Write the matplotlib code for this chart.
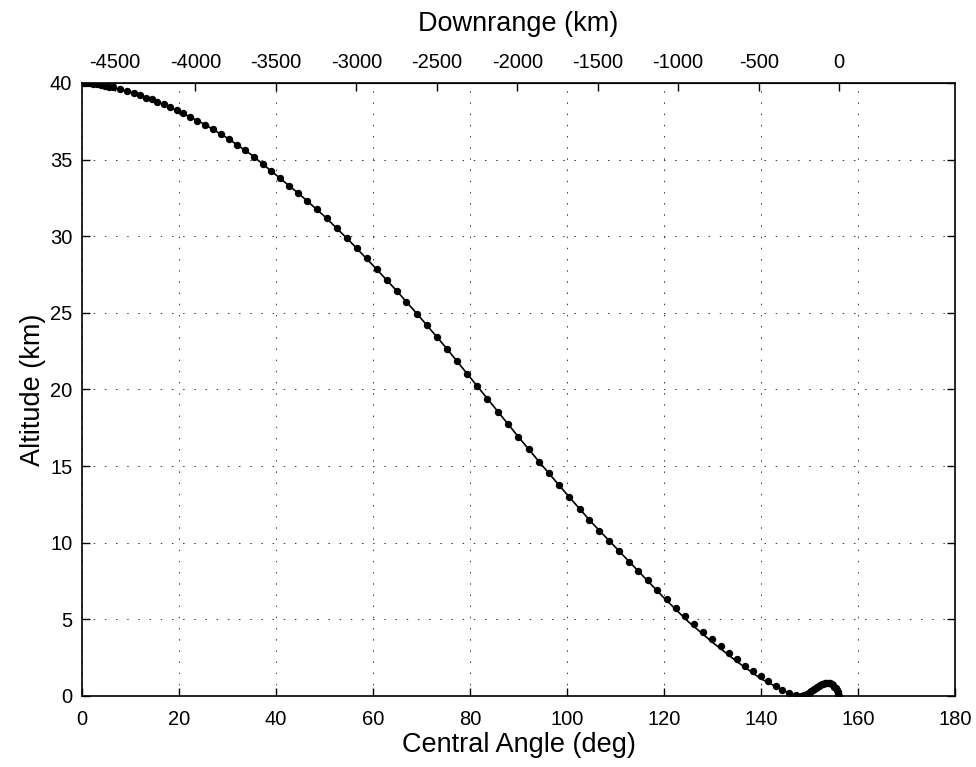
import matplotlib
matplotlib.use("Agg")
import matplotlib.pyplot as plt
import numpy as np

# central angle (deg) and altitude (km) of the trajectory line
line_angle = [0, 2, 5, 10, 15, 20, 25, 30, 35, 40, 45, 50, 55, 60, 65, 70,
              75, 80, 85, 90, 95, 100, 105, 110, 115, 120, 125, 130, 135,
              140, 145, 147.5, 148.5, 149.5, 150.5, 151.5, 152.5, 153.3,
              153.9, 154.5, 155.0, 155.4, 155.7, 155.9, 156.0]
line_alt = [40.0, 39.97, 39.8, 39.4, 38.85, 38.15, 37.35, 36.4, 35.3, 34.0,
            32.7, 31.3, 29.75, 28.1, 26.4, 24.6, 22.75, 20.8, 18.85, 16.9,
            15.0, 13.15, 11.35, 9.7, 8.05, 6.4, 4.85, 3.5, 2.25, 1.12, 0.3,
            0.02, 0.02, 0.14, 0.38, 0.6, 0.78, 0.85, 0.86, 0.8, 0.62, 0.42,
            0.22, 0.08, 0.0]

# sampled points (dots)
dot_angle = [0.0, 0.4, 0.9, 1.5, 2.2, 3.0, 3.9, 4.8, 5.6, 6.45, 7.84, 9.22,
             10.72, 11.96, 13.2, 14.37, 15.53, 16.9, 18.14, 19.53, 20.89,
             22.27, 23.78, 25.36, 26.95, 28.6, 30.3, 32.0, 33.67, 35.46,
             37.26, 39.03, 40.8, 42.7, 44.5, 46.45, 48.45, 50.45, 52.5,
             54.55, 56.6, 58.7, 60.75, 62.8, 64.9, 66.9, 69.1, 71.1, 73.1,
             75.2, 77.3, 79.4, 81.5, 83.6, 85.8, 87.8, 89.96, 92.1, 94.2,
             96.2, 98.4, 100.5, 102.7, 104.6, 106.7, 108.7, 110.8, 112.8,
             114.7, 116.6, 118.6, 120.6, 122.5, 124.3, 126.2, 128.1, 129.9,
             131.7, 133.4, 135.1, 136.8, 138.4, 139.9, 141.5, 143.0, 144.4,
             145.8, 147.2, 148.3, 148.6, 148.9, 149.2, 149.5, 149.8, 150.1,
             150.4, 150.7, 151.0, 151.3, 151.6, 151.9, 152.2, 152.5, 152.8,
             153.1, 153.4, 153.7, 154.0, 154.3, 154.6, 154.9, 155.15, 155.4,
             155.6, 155.8, 155.95, 156.05]
dot_alt = [40.0, 40.0, 39.99, 39.98, 39.96, 39.93, 39.88, 39.82, 39.77,
           39.72, 39.62, 39.5, 39.33, 39.2, 39.05, 38.93, 38.78, 38.6, 38.42,
           38.22, 38.02, 37.8, 37.55, 37.28, 37.0, 36.68, 36.34, 35.98, 35.6,
           35.18, 34.73, 34.26, 33.8, 33.3, 32.83, 32.3, 31.75, 31.16, 30.55,
           29.9, 29.25, 28.55, 27.85, 27.15, 26.43, 25.73, 24.95, 24.2, 23.45,
           22.67, 21.85, 21.03, 20.22, 19.4, 18.55, 17.75, 16.9, 16.1, 15.3,
           14.55, 13.75, 12.97, 12.2, 11.5, 10.77, 10.1, 9.43, 8.77, 8.15,
           7.55, 6.9, 6.3, 5.75, 5.2, 4.7, 4.18, 3.72, 3.25, 2.8, 2.4, 1.98,
           1.6, 1.28, 0.95, 0.65, 0.4, 0.2, 0.05, 0.0, 0.02, 0.05, 0.09,
           0.14, 0.2, 0.27, 0.34, 0.41, 0.48, 0.55, 0.61, 0.67, 0.72, 0.76,
           0.8, 0.83, 0.85, 0.86, 0.85, 0.82, 0.77, 0.7, 0.61, 0.5, 0.38,
           0.25, 0.13, 0.03]

downrange_ticks = [-4500, -4000, -3500, -3000, -2500, -2000, -1500, -1000, -500, 0]

KM_PER_DEG = 30.14
ZERO_DEG = 156.1


def deg2km(d):
    return (np.asarray(d) - ZERO_DEG) * KM_PER_DEG


def km2deg(k):
    return np.asarray(k) / KM_PER_DEG + ZERO_DEG


def main():
    plt.rcParams['font.family'] = ['Liberation Sans', 'DejaVu Sans']
    plt.rcParams['axes.unicode_minus'] = False

    fig = plt.figure(figsize=(9.76, 7.67), dpi=100)
    ax = fig.add_axes([0.084, 0.0926, 0.8945, 0.7992])

    ax.plot(line_angle, line_alt, color='black', linewidth=1.2)
    ax.plot(dot_angle, dot_alt, linestyle='none', marker='o', markersize=4.3,
            color='black')

    ax.set_xlim(0, 180)
    ax.set_ylim(0, 40)
    ax.set_xticks(np.arange(0, 181, 20))
    ax.set_yticks(np.arange(0, 41, 5))
    ax.grid(True, color='#333333', linewidth=0.7, linestyle=(0, (1.5, 10)))
    ax.tick_params(direction='in', length=6, width=1, labelsize=14.5, pad=7,
                   right=True, top=False)
    ax.tick_params(axis='x', pad=10)
    for s in ax.spines.values():
        s.set_linewidth(1.2)

    ax.set_xlabel("Central Angle (deg)", fontsize=19.5, labelpad=2)
    ax.set_ylabel("Altitude (km)", fontsize=19.5, labelpad=3)

    top = ax.secondary_xaxis('top', functions=(deg2km, km2deg))
    top.set_xticks(downrange_ticks)
    top.tick_params(direction='in', length=6, width=1, labelsize=14.5, pad=8)
    top.set_xlabel("Downrange (km)", fontsize=19.5, labelpad=16)

    fig.savefig("out.png", dpi=100)


if __name__ == "__main__":
    main()
